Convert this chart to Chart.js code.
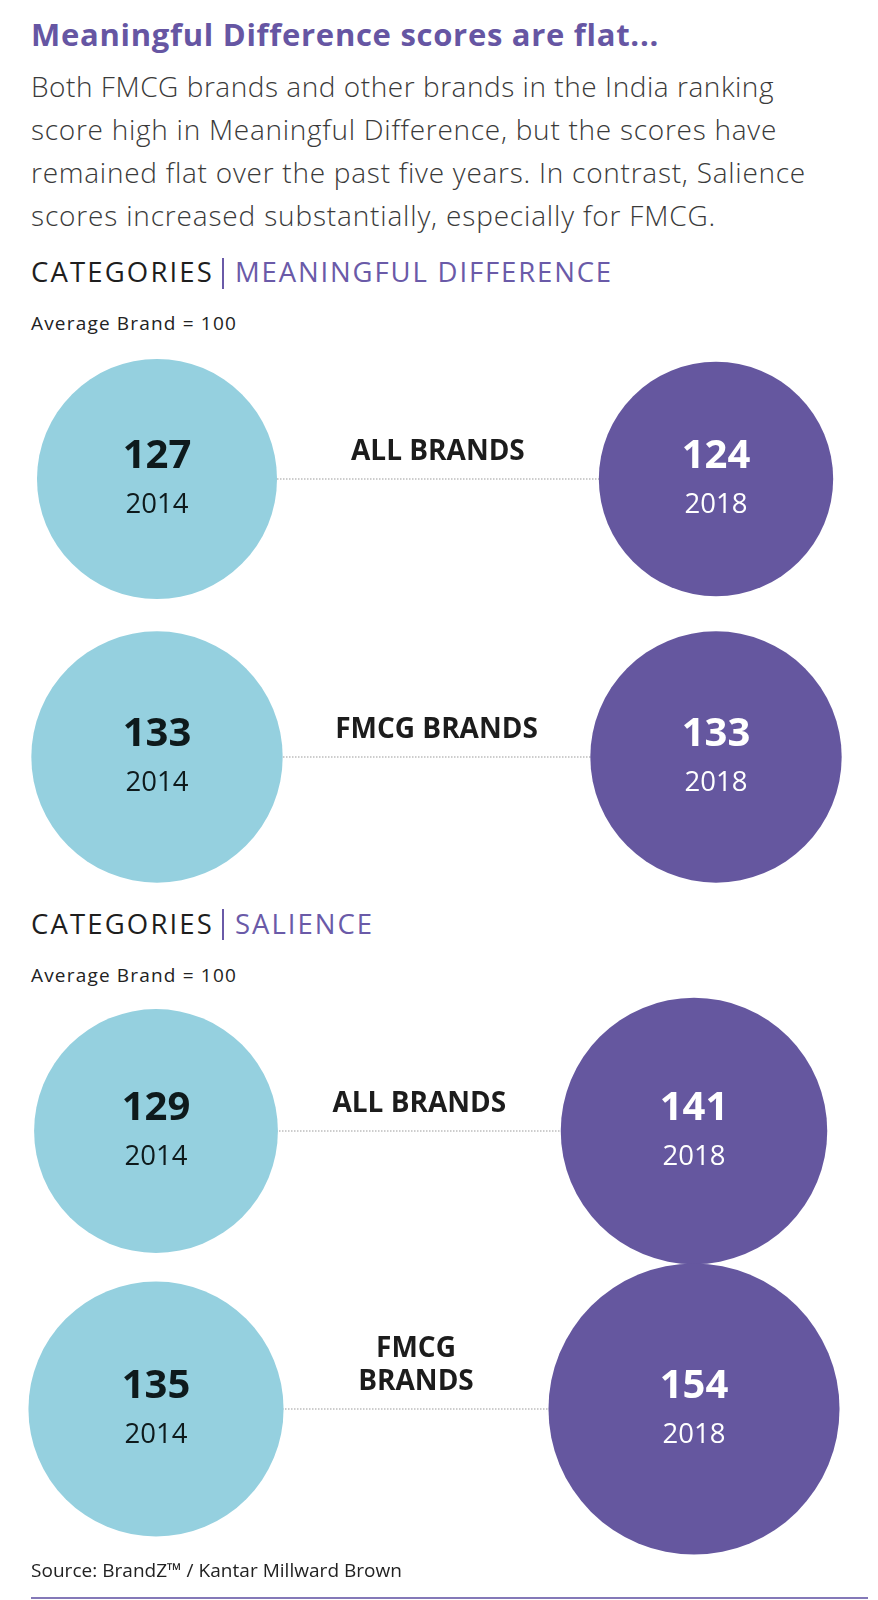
<!DOCTYPE html>
<html>
<head>
<meta charset="utf-8">
<script src="https://cdn.jsdelivr.net/npm/chart.js@4"></script>
<style>
    body { margin: 0; width: 878px; height: 1600px; position: relative; overflow: hidden; background: #fff; font-family: 'Open Sans', Lato, sans-serif; }
    .t { position: absolute; white-space: nowrap; line-height: 1.2; }
    .title { left: 31px; top: 16px; font-size: 31px; font-weight: 700; color: #6656a3; }
    .body { left: 31px; font-size: 28px; font-weight: 300; color: #3a3a3a; }
    .head { font-size: 27.5px; font-weight: 400; }
    .dark { color: #1e1e1e; }
    .violet { color: #6a5aa8; }
    .small { left: 31px; font-size: 19px; color: #222; }
    .bar { position: absolute; left: 222px; width: 2px; height: 31px; background: #6a5aa8; }
    canvas { position: absolute; left: 0; }
    .rule { position: absolute; left: 31px; top: 1597px; width: 837px; height: 2px; background: #8479b8; }
</style>
</head>
<body>
<div class="t title" data-w="628">Meaningful Difference scores are flat...</div>
<div class="t body" style="top:70px" data-w="743">Both FMCG brands and other brands in the India ranking</div>
<div class="t body" style="top:113px" data-w="746">score high in Meaningful Difference, but the scores have</div>
<div class="t body" style="top:156px" data-w="775">remained flat over the past five years. In contrast, Salience</div>
<div class="t body" style="top:199px" data-w="685">scores increased substantially, especially for FMCG.</div>

<div class="t head dark" style="left:31px;top:255px" data-w="183">CATEGORIES</div>
<div class="bar" style="top:258px"></div>
<div class="t head violet" style="left:235px;top:255px" data-w="378">MEANINGFUL DIFFERENCE</div>
<div class="t small" style="top:312px" data-w="206">Average Brand = 100</div>
<canvas id="chart_md" width="878" height="556" style="top:340px"></canvas>

<div class="t head dark" style="left:31px;top:907px" data-w="183">CATEGORIES</div>
<div class="bar" style="top:909px"></div>
<div class="t head violet" style="left:235px;top:907px" data-w="139">SALIENCE</div>
<div class="t small" style="top:964px" data-w="206">Average Brand = 100</div>
<canvas id="chart_salience" width="878" height="570" style="top:992px"></canvas>

<div class="t small" style="top:1559px" data-w="371">Source: BrandZ™ / Kantar Millward Brown</div>
<div class="rule"></div>

<script>
const years = [2014, 2018];
const mdGroups = ['ALL BRANDS', 'FMCG BRANDS'];
const mdScores2014 = [127, 133];
const mdScores2018 = [124, 133];
const salienceGroups = ['ALL BRANDS', ['FMCG', 'BRANDS']];
const salienceScores2014 = [129, 135];
const salienceScores2018 = [141, 154];

const CYAN = '#95d0df';
const PURPLE = '#65579f';
const RADIUS_PER_POINT = 0.945;
const FONT = "'Open Sans', Lato, sans-serif";

// stretch html text to the widths measured on the original
document.querySelectorAll('[data-w]').forEach(el => {
    const w = el.getBoundingClientRect().width;
    el.style.letterSpacing = ((+el.dataset.w - w) / el.textContent.length) + 'px';
});

const circleText = {
    id: 'circleText',
    afterDatasetsDraw(chart, args, opts) {
        const ctx = chart.ctx;
        const left = chart.getDatasetMeta(0).data;
        const right = chart.getDatasetMeta(1).data;
        ctx.save();
        ctx.textAlign = 'center';
        ctx.textBaseline = 'alphabetic';
        [0, 1].forEach(d => {
            const ds = chart.data.datasets[d];
            chart.getDatasetMeta(d).data.forEach((el, i) => {
                ctx.fillStyle = ds.textColor;
                ctx.font = 'bold 40px ' + FONT;
                ctx.fillText(ds.data[i].v, el.x, el.y - 11);
                ctx.font = '27.5px ' + FONT;
                ctx.fillText(ds.label, el.x, el.y + 34);
            });
        });
        ctx.fillStyle = '#1c1c1c';
        ctx.font = 'bold 28px ' + FONT;
        opts.rows.forEach((row, i) => {
            const lines = [].concat(row);
            const l = left[i], r = right[i];
            const x = (l.x + l.options.radius + r.x - r.options.radius) / 2;
            lines.forEach((t, j) => ctx.fillText(t, x, l.y - 19 - (lines.length - 1 - j) * 33));
        });
        ctx.restore();
    }
};

function bubbles(year, scores, color, textColor) {
    return {
        type: 'bubble',
        label: String(year),
        data: scores.map((v, i) => ({ x: year, y: i, v: v })),
        backgroundColor: color,
        borderWidth: 0,
        radius: ctx => ctx.raw.v * RADIUS_PER_POINT,
        textColor: textColor,
        clip: false,
        order: 0
    };
}

function connector(i) {
    return {
        type: 'line',
        data: years.map(y => ({ x: y, y: i })),
        borderColor: '#9b9b9b',
        borderWidth: 1,
        borderDash: [1.5, 1.5],
        pointRadius: 0,
        clip: false,
        order: 5
    };
}

function drawPair(id, groups, scores2014, scores2018, padding) {
    new Chart(document.getElementById(id), {
        type: 'bubble',
        data: {
            datasets: [
                bubbles(years[0], scores2014, CYAN, '#0e1a1c'),
                bubbles(years[1], scores2018, PURPLE, '#ffffff'),
                ...groups.map((g, i) => connector(i))
            ]
        },
        options: {
            responsive: false,
            animation: false,
            events: [],
            layout: { autoPadding: false, padding: padding },
            scales: {
                x: { type: 'linear', min: years[0], max: years[1], display: false },
                y: { type: 'linear', min: -0.5, max: groups.length - 0.5, reverse: true, display: false }
            },
            plugins: {
                legend: { display: false },
                tooltip: { enabled: false },
                circleText: { rows: groups }
            }
        },
        plugins: [circleText]
    });
}

drawPair('chart_md', mdGroups, mdScores2014, mdScores2018, { left: 157, right: 162, top: 0, bottom: 0 });
drawPair('chart_salience', salienceGroups, salienceScores2014, salienceScores2018, { left: 156, right: 184, top: 0, bottom: 14 });
</script>
</body>
</html>
